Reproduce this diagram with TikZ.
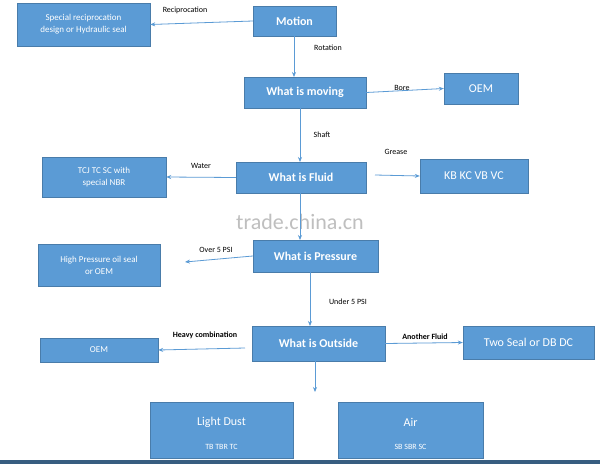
\documentclass[tikz,border=0pt]{standalone}
\usepackage{fontspec}
\setmainfont{Carlito}
\usetikzlibrary{arrows.meta}
\definecolor{bx}{HTML}{5B9BD5}
\begin{document}
\begin{tikzpicture}[x=1pt,y=-1pt,
  box/.style={draw=bx!80!black,line width=0.4pt,fill=bx,text=white,align=center,inner sep=0pt},
  arr/.style={draw=bx,line width=0.8pt,-{Stealth[length=5pt,width=4pt]}},
  lab/.style={font=\fontsize{8}{9}\selectfont,inner sep=1pt},
  big/.style={font=\fontsize{12}{14}\selectfont\bfseries},
  mid/.style={font=\fontsize{12}{14}\selectfont},
  sm/.style={font=\fontsize{9}{12}\selectfont}]
\useasboundingbox (0,0) rectangle (600,464);
\fill[white] (0,0) rectangle (600,464);
\node[box,sm,minimum width=133,minimum height=43] (spec) at (83.5,24.5) {Special reciprocation\\design or Hydraulic seal};
\node[box,big,minimum width=83,minimum height=30] (mot) at (294.5,21) {Motion};
\node[box,big,minimum width=122,minimum height=31] (mov) at (305,92.5) {What is moving};
\node[box,mid,minimum width=74,minimum height=31] (oem1) at (481,88.5) {OEM};
\node[box,sm,minimum width=124,minimum height=40] (tcj) at (104,177) {TCJ TC SC with\\special NBR};
\node[box,big,minimum width=130,minimum height=31] (flu) at (301,177.5) {What is Fluid};
\node[box,mid,minimum width=108,minimum height=34] (kb) at (474,176) {KB KC VB VC};
\node[box,sm,minimum width=122,minimum height=42] (hp) at (99,265) {High Pressure oil seal\\or OEM};
\node[box,big,minimum width=125,minimum height=32] (pre) at (315.5,256) {What is Pressure};
\node[box,sm,minimum width=118,minimum height=24] (oem2) at (99,350) {OEM};
\node[box,big,minimum width=133,minimum height=35] (out) at (318.5,343.5) {What is Outside};
\node[box,mid,minimum width=131,minimum height=33] (two) at (528.5,342.5) {Two Seal or DB DC};
\node[box,minimum width=143,minimum height=56] (ld) at (221.5,430) {};
\node[text=white,mid] (ldt) at (221.5,422) {Light Dust};
\node[text=white,font=\fontsize{8}{9}\selectfont] (ldb) at (221.5,447) {TB TBR TC};
\node[box,minimum width=145,minimum height=56] (air) at (410.5,430) {};
\node[text=white,mid] (airt) at (410.5,422) {Air};
\node[text=white,font=\fontsize{8}{9}\selectfont] (airb) at (410.5,447) {SB SBR SC};
\fill[bx!60!black] (0,460) rectangle (600,464);
\node[text=black!25,font=\fontsize{22}{24}\selectfont] (wm) at (300,222) {trade.china.cn};
% arrows
\draw[arr] (mot.west) -- (spec.east);
\node[lab] (l1) at (185,10) {Reciprocation};
\draw[arr] (294,36) -- (294,77);
\node[lab] (l2) at (328,48) {Rotation};
\draw[arr] (mov.east) -- (oem1.west);
\node[lab] (l3) at (402,88) {Bore};
\draw[arr] (300,108) -- (300,162);
\node[lab] (l4) at (322,135) {Shaft};
\draw[arr] (flu.west) -- (tcj.east);
\node[lab] (l5) at (201,166) {Water};
\draw[arr] (375,175) -- (kb.west);
\node[lab] (l6) at (396,152) {Grease};
\draw[arr] (300,193) -- (300,240);
\draw[arr] (pre.west) -- (185,262);
\node[lab] (l7) at (216,250) {Over 5 PSI};
\draw[arr] (310,272) -- (310,326);
\node[lab] (l8) at (348,302) {Under 5 PSI};
\draw[arr] (245,348) -- (oem2.east);
\node[lab,font=\fontsize{8}{9}\selectfont\bfseries] (l9) at (205,335) {Heavy combination};
\draw[arr] (out.east) -- (two.west);
\node[lab,font=\fontsize{8}{9}\selectfont\bfseries] (l10) at (425,337) {Another Fluid};
\draw[arr] (315,361) -- (315,392);
\end{tikzpicture}
\end{document}
